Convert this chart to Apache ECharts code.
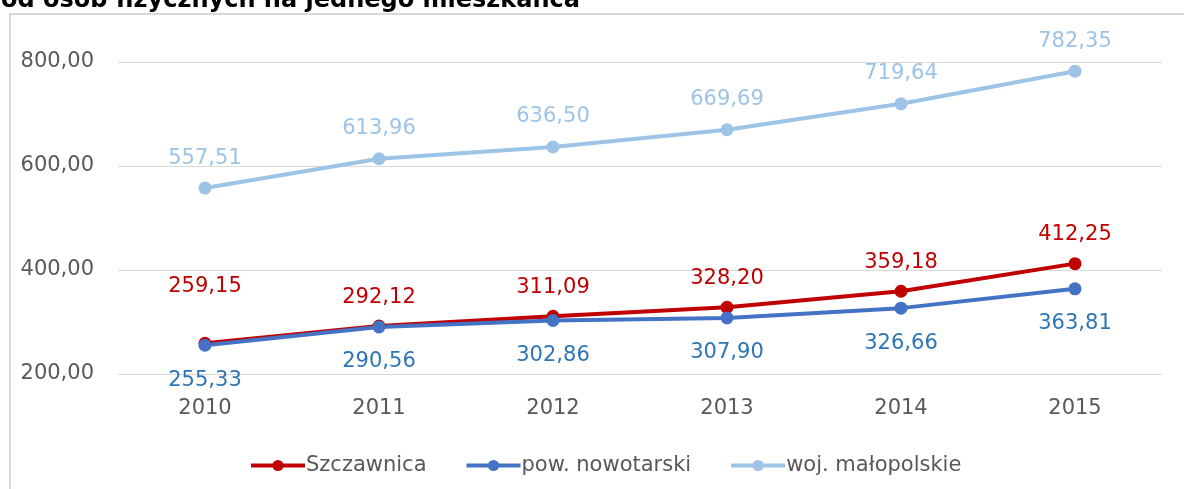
<!DOCTYPE html>
<html>
<head>
<meta charset="utf-8">
<script src="https://cdn.jsdelivr.net/npm/echarts@6/dist/echarts.min.js"></script>
<style>
html,body{margin:0;padding:0;background:#fff;}
#chart{width:1184px;height:489px;}
</style>
</head>
<body>
<div id="chart"></div>
<script>
var years = ['2010', '2011', '2012', '2013', '2014', '2015'];
var szczawnica = [259.15, 292.12, 311.09, 328.20, 359.18, 412.25];
var nowotarski = [255.33, 290.56, 302.86, 307.90, 326.66, 363.81];
var malopolskie = [557.51, 613.96, 636.50, 669.69, 719.64, 782.35];

var fmt = function (v) { return Number(v).toFixed(2).replace('.', ','); };
var font = 'DejaVu Sans';
var fs = 21;

// extra = {index: distance} dla etykiet przesunietych recznie
function lineSeries(name, data, color, labelColor, pos, dist, extra) {
	extra = extra || {};
	return {
		name: name,
		type: 'line',
		data: data.map(function (v, i) {
			if (extra[i] == null) return v;
			return { value: v, label: { distance: extra[i] } };
		}),
		symbol: 'circle',
		symbolSize: 13,
		lineStyle: { color: color, width: 4 },
		itemStyle: { color: color },
		label: {
			show: true,
			position: pos,
			distance: dist,
			color: labelColor,
			fontSize: fs,
			fontFamily: font,
			formatter: function (p) { return fmt(p.value); }
		}
	};
}

var myChart = echarts.init(document.getElementById('chart'));
myChart.setOption({
	animation: false,
	textStyle: { fontFamily: font },
	title: {
		text: 'od osób fizycznych na jednego mieszkańca',
		left: -4,
		top: -16,
		textStyle: { fontSize: 24, fontWeight: 'bold', color: '#000', fontFamily: font }
	},
	graphic: [{
		type: 'rect',
		shape: { x: 10, y: 14, width: 1300, height: 600 },
		style: { fill: 'none', stroke: '#d9d9d9', lineWidth: 2 },
		z: -1
	}],
	grid: { left: 118, right: 22, top: 62, bottom: 115 },
	legend: {
		left: 244,
		top: 450,
		itemWidth: 54,
		itemHeight: 14,
		itemGap: 38,
		lineStyle: { width: 4 },
		textStyle: { fontSize: fs, color: '#595959', fontFamily: font, padding: [0, 0, 0, -4] },
		data: ['Szczawnica', 'pow. nowotarski', 'woj. małopolskie']
	},
	xAxis: {
		type: 'category',
		data: years,
		axisLine: { lineStyle: { color: '#d9d9d9' } },
		axisTick: { show: false },
		axisLabel: { fontSize: fs, color: '#595959', margin: 24, fontFamily: font }
	},
	yAxis: {
		type: 'value',
		min: 200,
		max: 800,
		interval: 200,
		axisLine: { show: false },
		axisTick: { show: false },
		splitLine: { lineStyle: { color: '#d9d9d9' } },
		axisLabel: { fontSize: fs, color: '#595959', margin: 24, fontFamily: font, formatter: fmt }
	},
	series: [
		lineSeries('Szczawnica', szczawnica, '#c00000', '#c00000', 'top', 12, { 0: 40 }),
		lineSeries('pow. nowotarski', nowotarski, '#4472c4', '#2e75b6', 'bottom', 18),
		lineSeries('woj. małopolskie', malopolskie, '#9dc3e6', '#9dc3e6', 'top', 13)
	]
});
</script>
</body>
</html>
